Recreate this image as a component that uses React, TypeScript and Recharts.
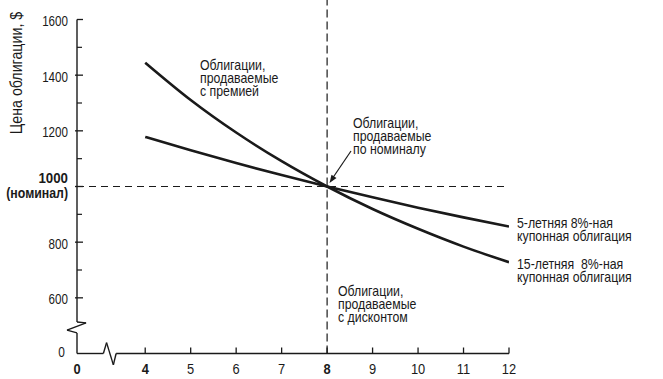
import { LineChart, Line, XAxis, YAxis, ReferenceLine } from "recharts"

const yields = [4, 5, 6, 7, 8, 9, 10, 11, 12]
const price5yr = [1178, 1130, 1084, 1041, 1000, 961, 924, 889, 856]
const price15yr = [1445, 1311, 1194, 1091, 1000, 919, 848, 784, 728]

// 2.5 is where the broken axis puts its "0"
const xTicks = [2.5, 4, 5, 6, 7, 8, 9, 10, 11, 12]
const xTickLabels = ["0", "4", "5", "6", "7", "8", "9", "10", "11", "12"]
const boldX = ["0", "4", "8"]

// 400 is where the broken axis puts its "0"
const yTicks = [400, 600, 700, 800, 900, 1000, 1100, 1200, 1300, 1400, 1500, 1600]
const yTickLabels = ["0", "600", "", "800", "", "1000", "", "1200", "", "1400", "", "1600"]

const data = yields.map((x, i) => ({ x, p5: price5yr[i], p15: price15yr[i] }))

// axis lines with the break marks, in data units
const yAxisPath = [[2.5, 400], [2.5, 474], [2.28, 484], [2.7, 510], [2.5, 513], [2.5, 1600]]
const xAxisPath = [[2.5, 400], [3.08, 400], [3.15, 439], [3.3, 359], [3.36, 400], [12, 400]]

const FONT = "'Liberation Sans', Arial, sans-serif"
const INK = "#1a1a1a"

// narrow type: Liberation Sans squeezed sideways
function T({ x, y, sx = 0.88, size = 14, anchor = "start", bold = false, rotate = 0, children }: any) {
    return (
        <text transform={`translate(${x},${y}) rotate(${rotate}) scale(${sx},1)`} textAnchor={anchor}
            fontSize={size} fontFamily={FONT} fontWeight={bold ? 700 : 400} fill={INK}
            style={{ whiteSpace: "pre" }}>
            {children}
        </text>
    )
}

function segments(path: number[][], key: string) {
    return path.slice(1).map((p, i) => (
        <ReferenceLine
            key={key + i}
            segment={[{ x: path[i][0], y: path[i][1] }, { x: p[0], y: p[1] }]}
            stroke={INK}
            strokeWidth={1.4}
            ifOverflow="visible"
        />
    ))
}

function XTick(props: any) {
    const { x, y, payload } = props
    const label = xTickLabels[xTicks.indexOf(payload.value)]
    return (
        <g>
            {payload.value !== 2.5 && (
                <line x1={x} x2={x} y1={y} y2={y - 6} stroke={INK} strokeWidth={1.3} />
            )}
            <T x={x} y={y + 20} anchor="middle" sx={0.92} bold={boldX.includes(label)}>{label}</T>
        </g>
    )
}

function YTick(props: any) {
    const { x, y, payload } = props
    const axisX = x + 9
    const label = yTickLabels[yTicks.indexOf(payload.value)]
    if (payload.value === 400) {
        return <T x={x - 3} y={y + 3} anchor="end" sx={0.85}>{label}</T>
    }
    if (!label) {
        return <line x1={axisX} x2={axisX + 5} y1={y} y2={y} stroke={INK} strokeWidth={1.2} />
    }
    if (payload.value === 1000) {
        return (
            <g>
                <line x1={axisX - 2} x2={axisX + 6} y1={y} y2={y} stroke={INK} strokeWidth={1.3} />
                <T x={x} y={y - 4} anchor="end" sx={0.95} bold>1000</T>
                <T x={x} y={y + 11} anchor="end" sx={0.88} bold>(номинал)</T>
            </g>
        )
    }
    return (
        <g>
            <line x1={payload.value === 1600 ? axisX : axisX - 2} x2={axisX + 6} y1={y} y2={y} stroke={INK} strokeWidth={1.3} />
            <T x={x} y={y + 6.5} anchor="end" sx={0.83}>{label}</T>
        </g>
    )
}

function Note({ x, y, lines }: { x: number; y: number; lines: string[] }) {
    return (
        <g>
            {lines.map((t, i) => (
                <T key={i} x={x} y={y + i * 13}>{t}</T>
            ))}
        </g>
    )
}

export default function App() {
    return (
        <div style={{ position: "absolute", left: 0, top: 0, width: 663, height: 379, background: "#fff" }}>
            <LineChart width={663} height={379} data={data}
                margin={{ top: 19.5, right: 154, bottom: 0, left: 0 }}>
                <XAxis dataKey="x" type="number" domain={[2.5, 12]} ticks={xTicks} allowDataOverflow
                    axisLine={false} tickLine={false} tickSize={0} tickMargin={0} height={25.5}
                    tick={<XTick />} interval={0} />
                <YAxis type="number" domain={[400, 1600]} ticks={yTicks} allowDataOverflow
                    axisLine={false} tickLine={false} tickSize={0} tickMargin={9} width={77}
                    tick={<YTick />} interval={0} />
                <ReferenceLine y={1000} stroke={INK} strokeWidth={1.2} strokeDasharray="7 5" />
                <ReferenceLine segment={[{ x: 8, y: 400 }, { x: 8, y: 1670 }]} ifOverflow="visible"
                    stroke={INK} strokeWidth={1.2} strokeDasharray="8 4" />
                {segments(yAxisPath, "ya")}
                {segments(xAxisPath, "xa")}
                <Line type="monotone" dataKey="p15" stroke={INK} strokeWidth={2.6} dot={false} isAnimationActive={false} />
                <Line type="monotone" dataKey="p5" stroke={INK} strokeWidth={2.6} dot={false} isAnimationActive={false} />
                <g>
                    <T x={22} y={73} rotate={-90} anchor="middle" size={16} sx={0.89}>Цена облигации, $</T>
                    <Note x={200} y={70} lines={["Облигации,", "продаваемые", "с премией"]} />
                    <Note x={353} y={128} lines={["Облигации,", "продаваемые", "по номиналу"]} />
                    <Note x={517} y={228} lines={["5-летняя 8%-ная", "купонная облигация"]} />
                    <Note x={517} y={269} lines={["15-летняя  8%-ная", "купонная облигация"]} />
                    <Note x={338} y={296} lines={["Облигации,", "продаваемые", "с дисконтом"]} />
                    <line x1={351} y1={151} x2={332} y2={179} stroke={INK} strokeWidth={1.2} />
                    <polygon points="329.5,183 336.5,178.1 331.5,174.7" fill={INK} />
                </g>
            </LineChart>
        </div>
    )
}
